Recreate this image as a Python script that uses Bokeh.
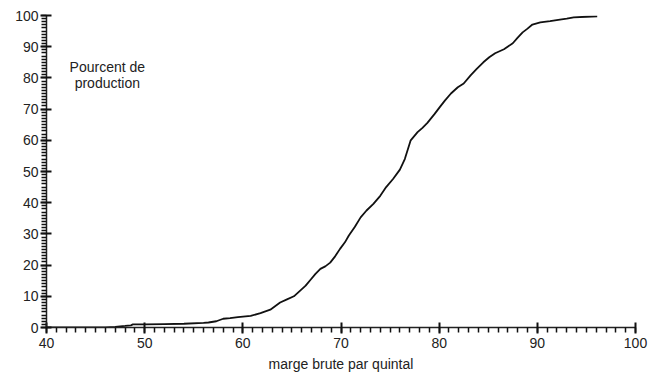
from bokeh.plotting import figure
from bokeh.models import Range1d, SingleIntervalTicker, Label
from bokeh.embed import file_html
from bokeh.resources import INLINE

# cumulative production share vs gross margin per quintal
marge = [40, 46.0, 47.0, 48.0, 48.6, 48.8, 50.0, 52.0, 54.0, 56.0, 56.5, 57.3, 58.0, 58.7,
         59.5, 60.8, 61.8, 62.8, 63.8, 64.5, 65.2, 65.9, 66.4, 66.9, 67.4, 67.9, 68.4,
         68.9, 69.4, 69.9, 70.4, 70.8, 71.4, 72.0, 72.6, 73.3, 74.0, 74.6, 75.3, 76.0,
         76.5, 77.1, 77.8, 78.3, 78.8, 79.5, 80.1, 80.6, 81.2, 81.9, 82.5, 83.2, 83.8,
         84.5, 85.1, 85.7, 86.6, 87.5, 88.0, 88.5, 89.0, 89.5, 90.3, 91.3, 92.3, 93.0,
         93.7, 95.0, 96.1]
pourcent = [0, 0, 0.2, 0.5, 0.7, 1.0, 1.0, 1.1, 1.2, 1.5, 1.6, 2.0, 2.8, 3.0,
            3.3, 3.7, 4.6, 5.7, 8.0, 9.0, 10.0, 12.0, 13.4, 15.3, 17.2, 18.8, 19.6,
            20.8, 22.8, 25.2, 27.3, 29.5, 32.2, 35.3, 37.5, 39.6, 42.2, 45.0, 47.6, 50.6,
            54.0, 60.0, 62.6, 64.0, 65.6, 68.3, 70.8, 72.8, 75.0, 77.0, 78.2, 80.8, 82.8,
            85.0, 86.6, 87.9, 89.2, 91.1, 92.9, 94.6, 95.8, 97.1, 97.8, 98.2, 98.7, 99.0,
            99.4, 99.6, 99.7]

tick_step = 10
minor_per_major = 10

p = figure(width=663, height=374, output_backend="svg", toolbar_location=None,
           x_range=Range1d(40, 100), y_range=Range1d(0, 100),
           min_border_left=46, min_border_right=28, min_border_top=15, min_border_bottom=46)
p.outline_line_color = None
p.xgrid.visible = False
p.ygrid.visible = False
p.background_fill_color = "white"
p.border_fill_color = "white"

p.line(marge, pourcent, line_color="#111111", line_width=1.8)

font = "Liberation Sans"
for ax in (p.xaxis[0], p.yaxis[0]):
    ax.ticker = SingleIntervalTicker(interval=tick_step, num_minor_ticks=minor_per_major)
    ax.axis_line_color = "#222222"
    ax.axis_line_width = 1.5
    ax.major_tick_line_color = "#111111"
    ax.minor_tick_line_color = "#111111"
    ax.major_tick_line_width = 2
    ax.minor_tick_line_width = 1.5
    ax.major_tick_in = 5
    ax.major_tick_out = 6
    ax.minor_tick_in = 0
    ax.minor_tick_out = 5
    ax.major_label_text_font = font
    ax.major_label_text_font_size = "14px"
    ax.major_label_text_color = "#222222"

p.xaxis.major_label_standoff = 4
p.yaxis.major_label_standoff = 2
p.xaxis.axis_label = "marge brute par quintal"
p.xaxis.axis_label_text_font = font
p.xaxis.axis_label_text_font_size = "14px"
p.xaxis.axis_label_text_font_style = "normal"
p.xaxis.axis_label_text_color = "#222222"
p.xaxis.axis_label_standoff = 5

p.add_layout(Label(x=46.2, y=83.5, text="Pourcent de", text_align="center",
                   text_baseline="middle", text_font=font, text_font_size="14px",
                   text_color="#222222"))
p.add_layout(Label(x=46.2, y=78.3, text="production", text_align="center",
                   text_baseline="middle", text_font=font, text_font_size="14px",
                   text_color="#222222"))

open("out.html", "w").write(file_html(p, INLINE))
